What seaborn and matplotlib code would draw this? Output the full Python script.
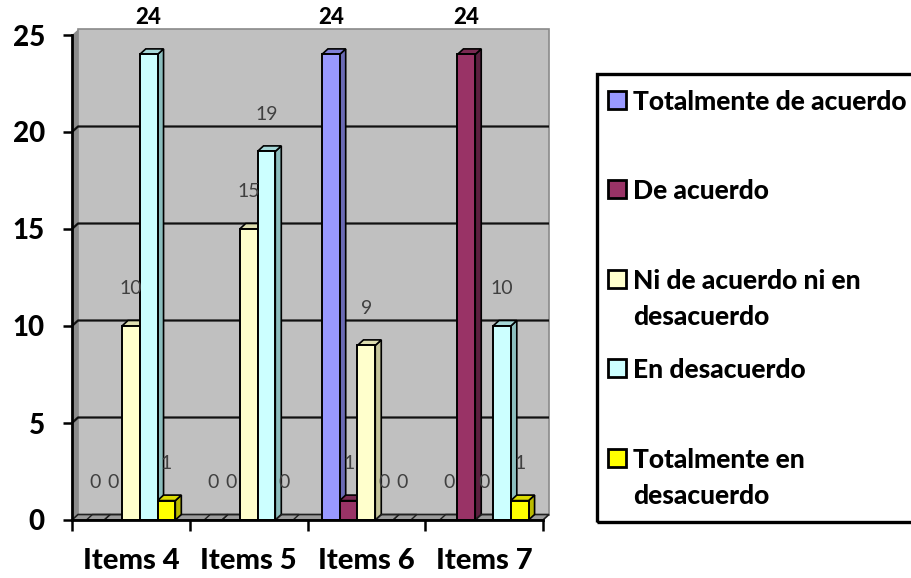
import matplotlib
matplotlib.use("Agg")
import matplotlib.pyplot as plt
import seaborn as sns
import pandas as pd
from matplotlib.colors import to_rgba
from matplotlib.patches import Polygon, Rectangle

# ---- data -------------------------------------------------------------
categories = ["Items 4", "Items 5", "Items 6", "Items 7"]
series = [
    "Totalmente de acuerdo",
    "De acuerdo",
    "Ni de acuerdo ni en\ndesacuerdo",
    "En desacuerdo",
    "Totalmente en\ndesacuerdo",
]
totalmente_de_acuerdo = [0, 0, 24, 0]
de_acuerdo = [0, 0, 1, 24]
ni_de_acuerdo = [10, 15, 9, 0]
en_desacuerdo = [24, 19, 0, 10]
totalmente_en_desacuerdo = [1, 0, 0, 1]
y_ticks = [0, 5, 10, 15, 20, 25]

values = [totalmente_de_acuerdo, de_acuerdo, ni_de_acuerdo,
          en_desacuerdo, totalmente_en_desacuerdo]

front_colors = ["#9999FF", "#993366", "#FFFFCC", "#CCFFFF", "#FFFF00"]
side_colors = ["#6A6AB4", "#5C2040", "#C4C49A", "#8CBEBE", "#BABA00"]
top_colors = ["#8080D8", "#7A2A52", "#DEDEB0", "#A6D8D8", "#DCDC00"]

df = pd.DataFrame(
    [(c, s, v[i]) for s, v in zip(series, values) for i, c in enumerate(categories)],
    columns=["item", "respuesta", "valor"],
)

# ---- figure / axes geometry ------------------------------------------
W, H = 912, 578
fig = plt.figure(figsize=(W / 100, H / 100), dpi=100)
ax_l, ax_r, ax_b, ax_t = 72, 543, 520, 35          # front plane, pixels
ax = fig.add_axes([ax_l / W, 1 - ax_b / H, (ax_r - ax_l) / W, (ax_b - ax_t) / H])
ax.set_xlim(-0.5, 3.5)
ax.set_ylim(0, 25)
ax.set_facecolor("none")

# depth offset of the 3D look, converted from pixels to data units
DX = 6 * 4 / (ax_r - ax_l)
DY = 5.5 * 25 / (ax_b - ax_t)
x0, x1, ytop = -0.5, 3.5, 25

# back wall, side wall and floor
ax.add_patch(Rectangle((x0 + DX, DY), x1 - x0, ytop, fc="#C0C0C0",
                       ec="#8A8A8A", lw=1.2, zorder=0, clip_on=False))
ax.add_patch(Polygon([(x0, 0), (x0, ytop), (x0 + DX, ytop + DY), (x0 + DX, DY)],
                     closed=True, fc="#8C8C8C", ec="none", zorder=0.5, clip_on=False))
ax.add_patch(Polygon([(x0, 0), (x1, 0), (x1 + DX, DY), (x0 + DX, DY)],
                     closed=True, fc="#9C9C9C", ec="#202020", lw=1.2, zorder=0.6,
                     clip_on=False))

# gridlines running across the side wall and the back wall
for v in y_ticks[1:-1]:
    ax.plot([x0, x0 + DX, x1 + DX], [v, v + DY, v + DY], color="#111111",
            lw=1.6, zorder=1, clip_on=False, solid_capstyle="butt")

# ---- bars ---------------------------------------------------------------
sns.barplot(data=df, x="item", y="valor", hue="respuesta", order=categories,
            hue_order=series, palette=front_colors, saturation=1, width=0.755,
            edgecolor="black", linewidth=1.4, legend=False, ax=ax, zorder=4)

bars = [p for p in ax.patches if isinstance(p, Rectangle) and p.get_zorder() == 4]
bars.sort(key=lambda p: p.get_x())


def series_index(patch):
    fc = patch.get_facecolor()
    for i, c in enumerate(front_colors):
        if all(abs(a - b) < 0.01 for a, b in zip(fc, to_rgba(c))):
            return i
    return 0


vmax = max(max(v) for v in values)
for p in bars:
    i = series_index(p)
    bx0, bw, h = p.get_x(), p.get_width(), p.get_height()
    bx1 = bx0 + bw
    if h > 0:
        ax.add_patch(Polygon([(bx1, 0), (bx1, h), (bx1 + DX, h + DY), (bx1 + DX, DY)],
                             closed=True, fc=side_colors[i], ec="black", lw=1.2,
                             zorder=3, clip_on=False))
        ax.add_patch(Polygon([(bx0, h), (bx1, h), (bx1 + DX, h + DY), (bx0 + DX, h + DY)],
                             closed=True, fc=top_colors[i], ec="black", lw=1.2,
                             zorder=3, clip_on=False))
    else:
        ax.add_patch(Polygon([(bx0, 0), (bx1, 0), (bx1 + DX, DY), (bx0 + DX, DY)],
                             closed=True, fc="none", ec="#202020", lw=1.0,
                             zorder=3, clip_on=False))
    strong = h == vmax
    ax.annotate(f"{int(h)}", (bx0 + bw / 2, h), xytext=(0, 37),
                textcoords="offset pixels", ha="center", va="center",
                fontsize=16 if strong else 14,
                fontweight="black" if strong else "normal",
                color="black" if strong else "#404040",
                family="Lato", annotation_clip=False, zorder=6)

# ---- axes styling -------------------------------------------------------
for s in ("top", "right"):
    ax.spines[s].set_visible(False)
for s in ("left", "bottom"):
    ax.spines[s].set_linewidth(2.0)
    ax.spines[s].set_color("black")
    ax.spines[s].set_zorder(5)

ax.set_yticks(y_ticks)
ax.set_yticklabels([str(t) for t in y_ticks], fontsize=20, fontweight="black",
                   family="Lato")
ax.tick_params(axis="y", direction="out", length=6.5, width=1.8, pad=13)

ax.set_xticks(range(len(categories)))
ax.set_xticklabels(categories, fontsize=21, fontweight="black", family="Lato")
ax.set_xticks([k - 0.5 for k in range(len(categories) + 1)], minor=True)
ax.tick_params(axis="x", which="major", length=0, pad=20)
ax.tick_params(axis="x", which="minor", direction="out", length=8, width=1.8)
ax.set_xlabel("")
ax.set_ylabel("")

# ---- legend -----------------------------------------------------------
def fx(x):
    return x / W


def fy(y):
    return 1 - y / H


fig.add_artist(Rectangle((fx(597), fy(522)), fx(940) - fx(597), fy(74) - fy(522),
                         transform=fig.transFigure, fill=False, ec="black", lw=2.4,
                         clip_on=False))
entry_y = [100, 189, 279, 368, 458]
for name, color, yc in zip(series, front_colors, entry_y):
    fig.add_artist(Rectangle((fx(608), fy(yc + 9)), fx(18), 18 / H,
                             transform=fig.transFigure, fc=color, ec="black", lw=2.0))
    # first line centred on the marker, the rest stacked below
    fig.text(fx(633), fy(yc - 10), name, ha="left", va="top", fontsize=19,
             fontweight="black", family="Lato", linespacing=1.6)

fig.savefig("out.png", dpi=100)
